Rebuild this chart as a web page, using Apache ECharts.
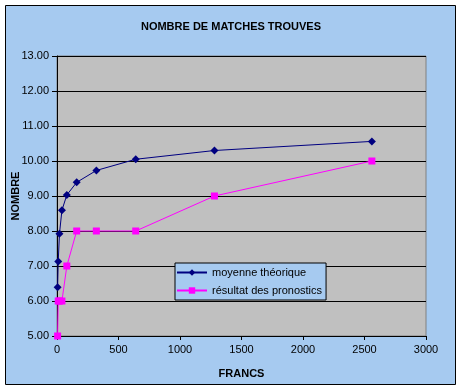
<!DOCTYPE html>
<html>
<head>
<meta charset="utf-8">
<script src="https://cdn.jsdelivr.net/npm/echarts@6/dist/echarts.min.js"></script>
<style>
html,body{margin:0;padding:0;background:#ffffff;}
#c{width:462px;height:391px;}
</style>
</head>
<body>
<div id="c"></div>
<script>
var francs = [5, 10, 20, 40, 80, 160, 320, 640, 1280, 2560];
var moyenneTheorique = [6.39, 7.13, 7.92, 8.59, 9.03, 9.39, 9.73, 10.05, 10.30, 10.56];
var resultatPronostics = [5, 6, 6, 6, 7, 8, 8, 8, 9, 10];
var seriesNames = ['moyenne théorique', 'résultat des pronostics'];
var titleText = 'NOMBRE DE MATCHES TROUVES';
var xName = 'FRANCS';
var yName = 'NOMBRE';

function pairs(xs, ys){ return xs.map(function(x,i){ return [x, ys[i]]; }); }

var font = 'Liberation Sans, Arial, sans-serif';
var chart = echarts.init(document.getElementById('c'), null, {renderer:'canvas'});
chart.setOption({
  backgroundColor: '#ffffff',
  animation: false,
  graphic: [{
    type: 'rect', z: -10, silent: true,
    shape: {x: 5.5, y: 5.5, width: 450, height: 379},
    style: {fill: '#a6caf0', stroke: '#000000', lineWidth: 1}
  }],
  title: {
    text: titleText, left: 'center', top: 16,
    textStyle: {fontFamily: font, fontSize: 11, fontWeight: 'bold', color: '#000'}
  },
  grid: {
    left: 57, top: 56, width: 369, height: 280,
    containLabel: false, outerBoundsMode: 'none',
    show: true, backgroundColor: '#c0c0c0', borderColor: '#808080', borderWidth: 1
  },
  legend: {
    left: 175, top: 263, orient: 'vertical',
    backgroundColor: '#a6caf0', borderColor: '#000', borderWidth: 1, borderRadius: 0,
    padding: [4, 4, 4, 1], itemGap: 7, itemWidth: 30, itemHeight: 8,
    textStyle: {fontFamily: font, fontSize: 11, color: '#000'},
    data: seriesNames
  },
  xAxis: {
    type: 'value', min: 0, max: 3000, interval: 500,
    name: xName, nameLocation: 'middle', nameGap: 32, nameMoveOverlap: false,
    nameTextStyle: {fontFamily: font, fontSize: 11, fontWeight: 'bold', color: '#000'},
    axisLine: {show: true, lineStyle: {color: '#000', width: 1}},
    axisTick: {show: true, length: 4, lineStyle: {color: '#000'}},
    axisLabel: {fontFamily: font, fontSize: 11, color: '#000', margin: 8,
      formatter: function(v){ return String(v); }},
    splitLine: {show: false}
  },
  yAxis: {
    type: 'value', min: 5, max: 13, interval: 1,
    name: yName, nameLocation: 'middle', nameGap: 36, nameRotate: 90, nameMoveOverlap: false,
    nameTextStyle: {fontFamily: font, fontSize: 11, fontWeight: 'bold', color: '#000'},
    axisLine: {show: true, lineStyle: {color: '#000', width: 1}},
    axisTick: {show: true, length: 5, lineStyle: {color: '#000'}},
    axisLabel: {fontFamily: font, fontSize: 11, color: '#000', margin: 8,
      formatter: function(v){ return v.toFixed(2); }},
    splitLine: {show: true, lineStyle: {color: '#000', width: 1}}
  },
  series: [{
    name: seriesNames[0], type: 'line', data: pairs(francs, moyenneTheorique),
    symbol: 'diamond', symbolSize: 8,
    lineStyle: {color: '#000080', width: 1},
    itemStyle: {color: '#000080'}
  }, {
    name: seriesNames[1], type: 'line', data: pairs(francs, resultatPronostics),
    symbol: 'rect', symbolSize: 7,
    lineStyle: {color: '#ff00ff', width: 1},
    itemStyle: {color: '#ff00ff'}
  }]
});
</script>
</body>
</html>
